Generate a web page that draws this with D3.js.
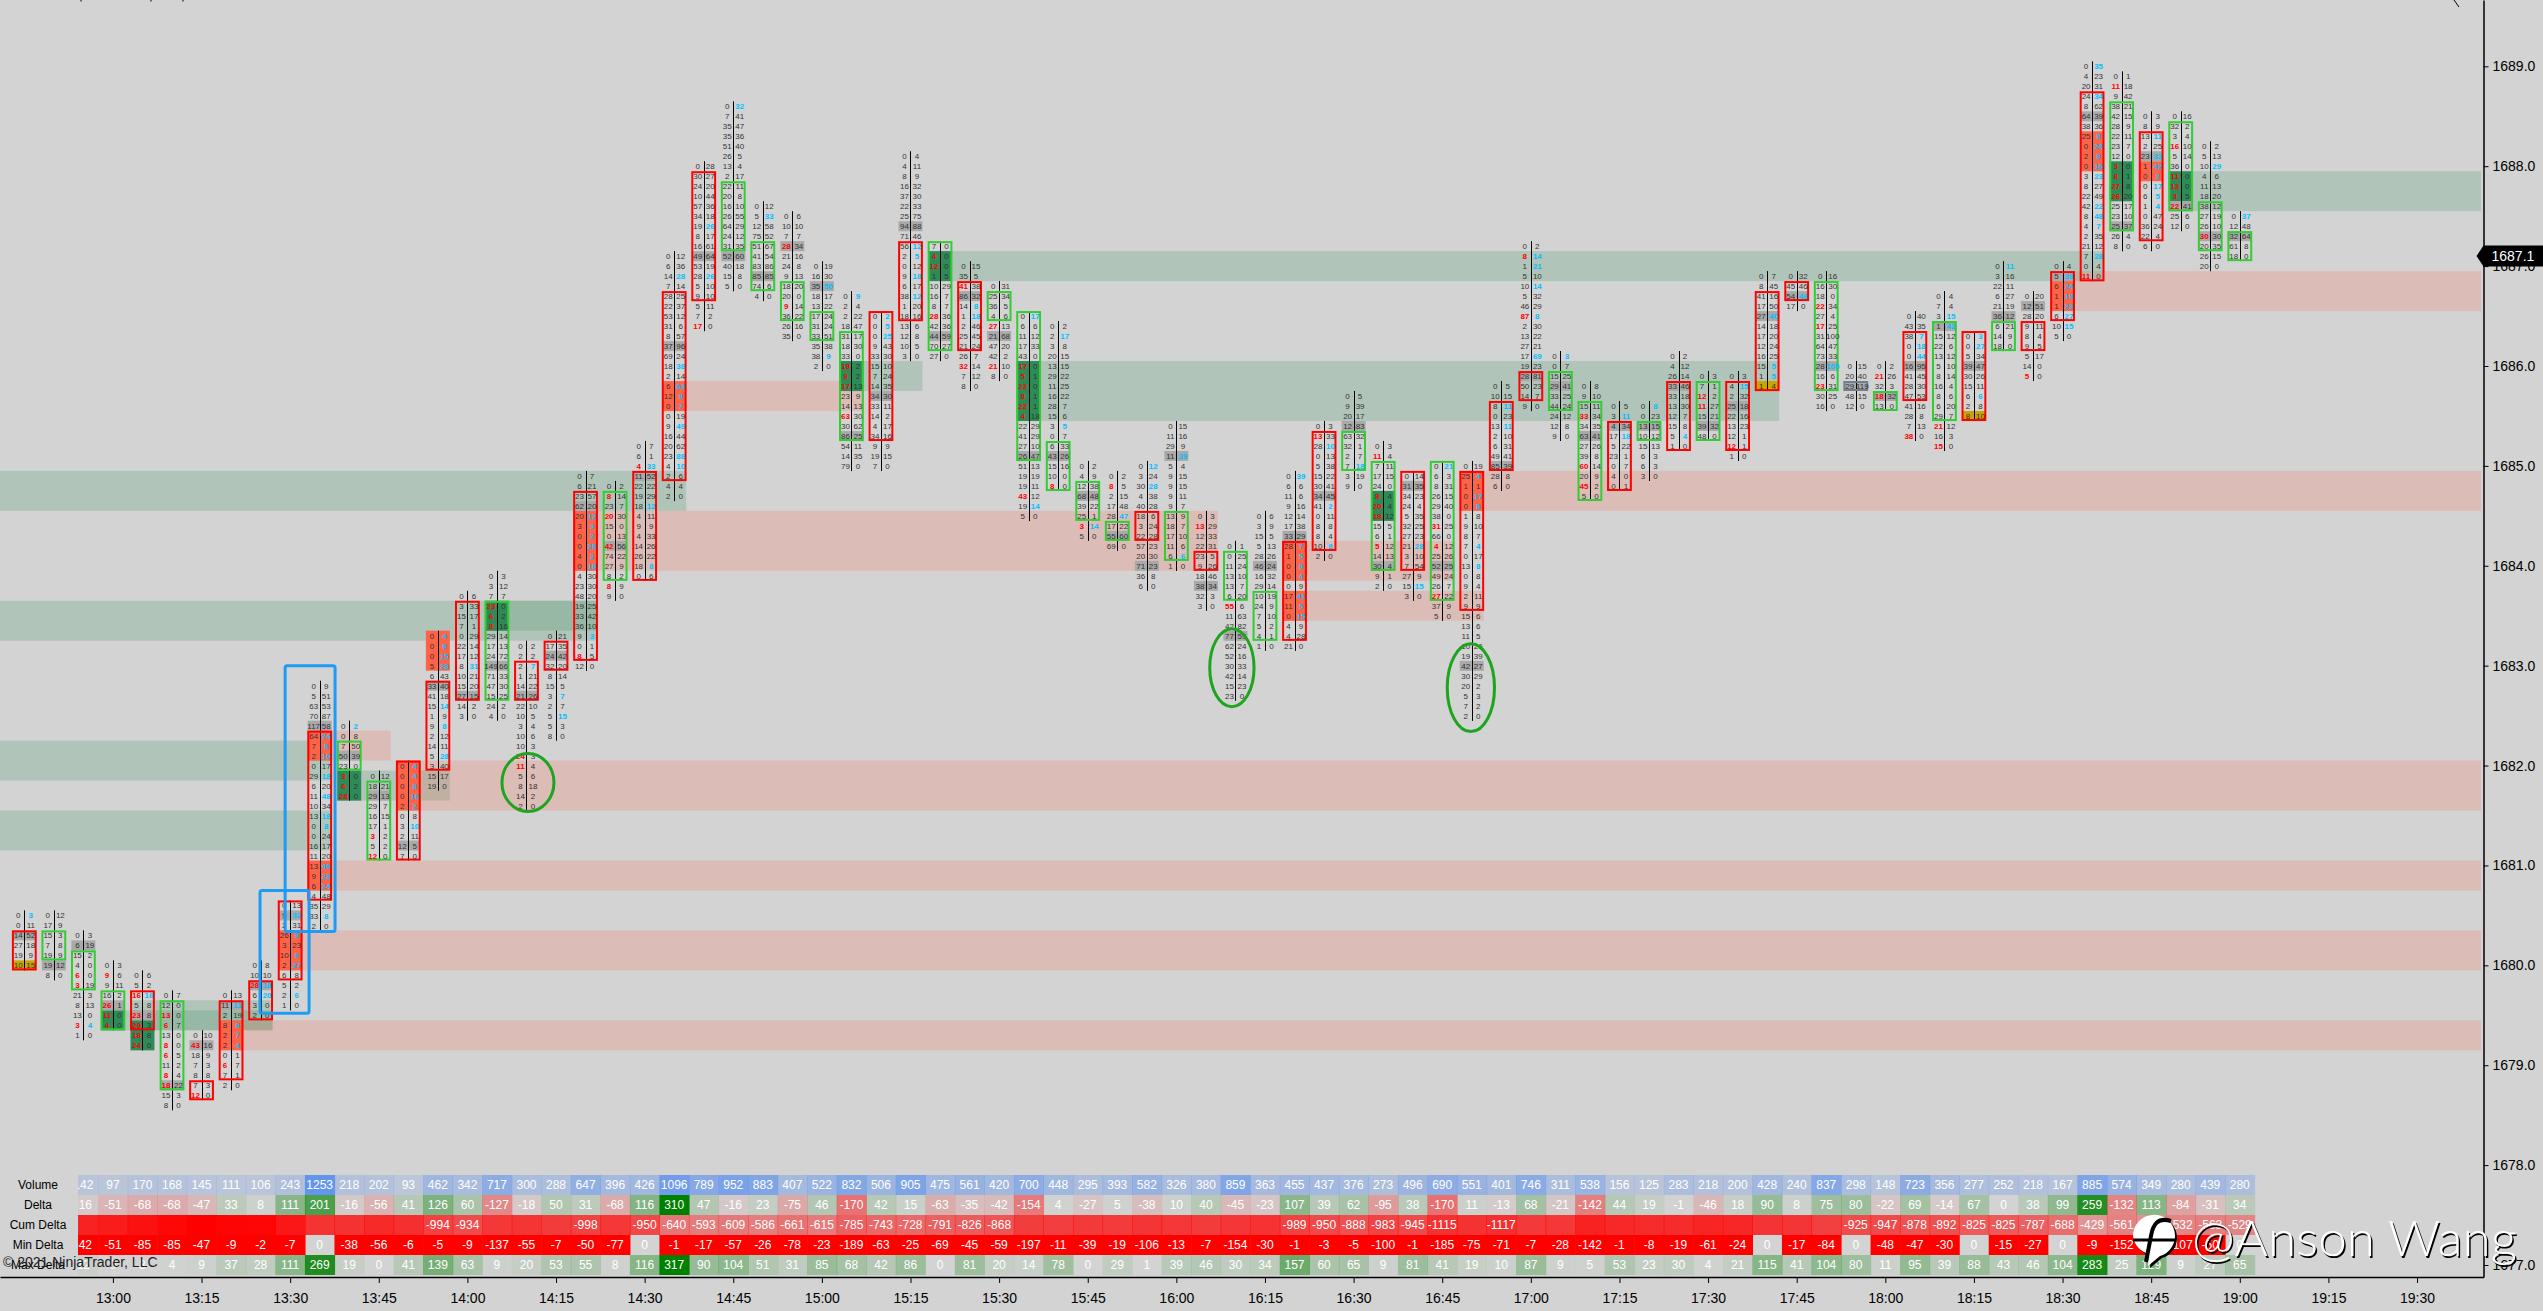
<!DOCTYPE html>
<html>
<head>
<meta charset="utf-8">
<script src="https://cdn.jsdelivr.net/npm/d3@7"></script>
<style>
  html, body { margin: 0; padding: 0; background: #d3d3d3; overflow: hidden; }
  text { font-family: "Liberation Sans", Arial, sans-serif; }
</style>
</head>
<body>
<script>
const timeLabels = ['13:00','13:15','13:30','13:45','14:00','14:15','14:30','14:45','15:00','15:15','15:30','15:45','16:00','16:15','16:30','16:45','17:00','17:15','17:30','17:45','18:00','18:15','18:30','18:45','19:00','19:15','19:30'];
const timeBars = [3,6,9,12,15,18,21,24,27,30,33,36,39,42,45,48,51,54,57,60,63,66,69,72,75,78,81];
const priceTicks = [1677,1678,1679,1680,1681,1682,1683,1684,1685,1686,1687,1688,1689];
const lastPrice = 1687.1;

// price of the top row of each footprint bar
const barTops = [1680.5,1680.5,1680.3,1680.0,1679.9,1679.7,1679.3,1679.7,1680.0,1680.6,1682.8,1682.4,1681.9,1682.0,1683.3,1683.7,1683.9,1683.2,1683.3,1684.9,1684.8,1685.2,1687.1,1688.0,1688.6,1687.6,1687.5,1687.0,1686.7,1686.5,1688.1,1687.2,1687.0,1686.8,1686.5,1686.4,1685.0,1684.9,1685.0,1685.4,1684.5,1684.2,1684.5,1684.9,1685.4,1685.7,1685.2,1684.9,1685.0,1685.0,1685.8,1687.2,1686.1,1685.8,1685.6,1685.6,1686.1,1685.9,1685.9,1686.9,1686.9,1686.9,1686.0,1686.0,1686.5,1686.7,1686.3,1687.0,1686.7,1687.0,1689.0,1688.9,1688.5,1688.5,1688.2,1687.5];

// bid x ask, top row first
const barLadders = [
  [[0,3],[0,11],[14,52],[27,18],[19,9],[10,15]],
  [[0,12],[17,9],[15,3],[7,8],[19,9],[19,12],[8,0]],
  [[0,3],[6,19],[15,2],[4,0],[6,0],[3,19],[21,3],[8,13],[13,0],[3,4],[1,0]],
  [[0,3],[9,6],[9,11],[16,2],[26,1],[11,0],[4,0]],
  [[0,6],[5,2],[16,16],[5,8],[23,8],[29,3],[18,8],[24,0]],
  [[0,7],[12,0],[13,0],[6,7],[13,0],[8,0],[6,5],[11,2],[8,4],[18,22],[15,3],[8,0]],
  [[0,10],[43,16],[18,9],[7,3],[8,8],[7,3],[12,0]],
  [[0,13],[11,11],[2,19],[8,8],[2,7],[2,4],[0,1],[6,7],[7,1],[2,0]],
  [[0,8],[10,10],[28,18],[6,20],[3,0],[2,0]],
  [[0,13],[9,32],[2,31],[26,9],[3,23],[10,6],[2,27],[6,8],[5,2],[2,6],[1,0]],
  [[0,9],[5,51],[63,53],[70,87],[117,58],[64,24],[7,8],[2,10],[0,17],[29,18],[6,20],[11,48],[10,34],[13,18],[0,8],[0,24],[16,17],[11,20],[13,46],[9,28],[6,24],[4,48],[35,29],[33,8],[2,0]],
  [[0,2],[0,8],[7,50],[50,39],[23,0],[3,0],[6,2],[28,0]],
  [[0,12],[18,21],[29,13],[29,7],[16,15],[17,1],[3,2],[5,2],[12,0]],
  [[0,4],[0,4],[0,8],[0,16],[2,2],[0,8],[3,10],[2,11],[12,5],[7,0]],
  [[0,4],[0,8],[0,15],[5,28],[6,43],[33,40],[41,18],[15,14],[1,9],[9,8],[2,12],[14,11],[5,28],[3,40],[15,17],[19,0]],
  [[0,6],[3,33],[15,17],[7,1],[0,29],[22,14],[17,12],[8,31],[10,21],[15,20],[27,15],[14,2],[3,0]],
  [[0,3],[3,12],[7,7],[23,0],[6,2],[8,16],[29,14],[17,13],[24,72],[149,66],[71,33],[47,30],[15,25],[24,2],[4,0]],
  [[0,2],[2,2],[2,7],[1,21],[14,22],[21,26],[22,10],[10,5],[3,4],[10,6],[10,3],[24,3],[11,4],[5,6],[8,18],[14,2],[2,0]],
  [[0,21],[17,35],[24,42],[32,20],[8,14],[15,5],[3,7],[2,7],[5,15],[5,3],[8,0]],
  [[0,7],[6,21],[23,57],[62,20],[20,12],[3,3],[0,2],[0,28],[4,2],[0,18],[4,30],[23,30],[48,20],[19,25],[33,42],[36,10],[9,3],[0,1],[8,5],[12,0]],
  [[0,2],[8,14],[23,7],[20,30],[15,0],[0,13],[42,56],[74,22],[27,9],[8,2],[8,9],[9,0]],
  [[0,7],[6,1],[4,33],[11,52],[22,22],[19,29],[18,12],[4,11],[9,9],[4,33],[14,26],[26,22],[18,8],[0,6]],
  [[0,12],[6,36],[14,28],[7,14],[28,25],[22,37],[53,12],[31,6],[8,57],[37,96],[69,24],[18,38],[2,14],[6,63],[12,9],[0,7],[0,19],[9,49],[16,44],[20,62],[23,88],[4,10],[2,6],[4,4],[2,0]],
  [[0,28],[30,27],[24,20],[10,44],[57,36],[34,18],[19,26],[8,17],[16,61],[49,64],[53,19],[28,26],[5,10],[9,10],[5,11],[7,2],[17,0]],
  [[0,32],[7,41],[35,47],[35,36],[51,40],[26,5],[13,4],[2,17],[22,11],[20,8],[16,10],[26,55],[64,29],[24,12],[31,35],[52,60],[40,18],[15,8],[5,0]],
  [[0,12],[5,33],[12,58],[75,52],[51,67],[41,54],[83,86],[85,85],[74,6],[4,0]],
  [[0,6],[10,10],[7,7],[28,34],[21,16],[24,8],[9,13],[18,20],[20,0],[9,14],[36,22],[26,16],[35,0]],
  [[0,19],[16,30],[35,50],[18,17],[13,22],[17,24],[31,24],[33,51],[35,38],[38,9],[2,0]],
  [[0,9],[2,4],[2,22],[18,47],[31,17],[18,30],[33,0],[18,2],[9,2],[17,13],[23,9],[14,13],[63,30],[30,62],[86,25],[54,11],[14,35],[79,0]],
  [[0,2],[0,5],[0,25],[9,43],[33,30],[15,10],[7,24],[14,35],[34,30],[33,11],[14,2],[4,17],[34,16],[9,9],[19,15],[7,0]],
  [[0,4],[4,11],[8,9],[16,32],[37,30],[22,33],[25,75],[94,88],[71,46],[56,12],[2,5],[0,12],[9,18],[6,17],[38,12],[1,20],[18,16],[13,6],[12,8],[10,5],[3,0]],
  [[7,0],[4,0],[12,0],[1,5],[10,29],[16,7],[8,7],[28,36],[42,36],[44,59],[70,27],[27,0]],
  [[0,15],[35,5],[41,38],[86,32],[14,8],[1,18],[2,46],[25,45],[21,24],[26,7],[32,14],[7,12],[8,0]],
  [[0,31],[25,34],[36,5],[4,6],[27,13],[21,68],[47,20],[42,2],[21,10],[8,0]],
  [[0,17],[6,6],[11,12],[17,33],[43,0],[17,0],[5,1],[22,0],[8,1],[22,1],[4,18],[22,29],[41,29],[27,10],[26,47],[51,13],[19,19],[19,11],[43,12],[19,14],[5,0]],
  [[0,2],[2,17],[3,8],[20,15],[13,15],[29,22],[11,25],[16,22],[28,7],[15,6],[3,5],[0,7],[6,33],[43,26],[15,16],[10,0],[8,0]],
  [[0,2],[4,9],[12,38],[68,48],[39,22],[25,1],[3,14],[5,0]],
  [[0,2],[8,5],[2,15],[17,48],[28,47],[17,22],[55,60],[69,0]],
  [[0,12],[3,24],[30,28],[4,38],[40,28],[18,6],[3,24],[22,28],[57,23],[20,30],[71,23],[36,8],[6,0]],
  [[0,15],[11,16],[29,9],[11,39],[5,4],[9,15],[9,15],[9,11],[9,7],[13,9],[18,7],[17,10],[11,6],[6,6],[1,0]],
  [[0,3],[13,29],[12,33],[22,31],[23,5],[9,26],[18,46],[38,34],[32,3],[3,0]],
  [[0,1],[0,25],[11,24],[13,10],[13,7],[6,20],[55,6],[11,63],[42,82],[77,59],[62,24],[52,16],[30,33],[42,14],[15,23],[23,0]],
  [[0,6],[3,9],[15,5],[5,13],[28,26],[46,24],[16,32],[29,14],[10,19],[24,9],[7,10],[5,2],[4,1],[1,0]],
  [[0,39],[6,6],[11,6],[9,16],[12,14],[17,38],[33,29],[28,7],[1,5],[0,8],[0,4],[0,9],[17,41],[11,5],[0,15],[4,9],[4,28],[21,0]],
  [[0,3],[13,33],[28,10],[0,13],[5,38],[15,22],[30,41],[34,45],[41,2],[0,11],[8,8],[8,4],[10,8],[2,0]],
  [[0,5],[9,39],[20,17],[12,83],[63,32],[32,1],[2,7],[7,18],[3,19],[9,0]],
  [[0,3],[11,4],[7,11],[17,15],[24,0],[8,4],[20,4],[18,12],[15,5],[6,1],[5,12],[14,13],[30,4],[9,1],[2,0]],
  [[0,14],[31,35],[34,23],[24,4],[5,35],[32,25],[27,23],[21,28],[3,10],[7,54],[27,9],[15,15],[3,0]],
  [[0,21],[6,3],[8,31],[26,15],[29,40],[38,0],[31,25],[66,0],[4,12],[25,26],[52,25],[49,24],[26,7],[27,22],[37,9],[5,0]],
  [[0,19],[25,4],[1,1],[0,17],[0,8],[1,8],[9,10],[8,7],[7,4],[0,17],[13,8],[0,8],[9,4],[2,11],[9,9],[15,6],[13,6],[11,5],[10,26],[19,39],[42,27],[30,29],[20,2],[5,3],[7,2],[2,0]],
  [[0,5],[10,15],[8,11],[0,23],[13,11],[2,10],[6,31],[49,41],[85,39],[28,8],[6,0]],
  [[0,2],[8,14],[1,21],[5,10],[10,14],[5,32],[46,29],[87,8],[2,30],[13,22],[27,21],[17,69],[19,23],[28,81],[50,23],[14,7],[9,0]],
  [[0,3],[0,7],[15,25],[29,41],[33,25],[44,24],[24,12],[12,8],[9,0]],
  [[0,8],[9,10],[15,11],[33,34],[34,35],[63,41],[27,26],[39,8],[60,14],[20,9],[45,2],[5,0]],
  [[0,5],[3,11],[4,34],[17,18],[5,22],[23,1],[0,7],[4,0],[0,1]],
  [[0,8],[0,23],[13,15],[10,12],[15,13],[6,3],[6,3],[3,0]],
  [[0,2],[4,12],[26,14],[33,46],[33,18],[13,30],[12,7],[15,8],[5,4],[1,0]],
  [[0,3],[7,1],[12,2],[11,27],[15,21],[39,32],[48,0]],
  [[0,3],[4,15],[2,32],[25,18],[22,16],[13,23],[12,1],[12,1],[1,0]],
  [[0,7],[8,45],[41,16],[17,50],[27,40],[14,18],[17,20],[12,24],[16,25],[15,5],[1,5],[1,4]],
  [[0,32],[45,46],[54,46],[17,0]],
  [[0,16],[16,30],[18,0],[22,34],[27,4],[17,25],[31,100],[64,47],[73,33],[28,105],[16,6],[23,31],[30,25],[16,0]],
  [[0,15],[20,40],[29,119],[48,15],[12,0]],
  [[0,2],[21,26],[32,3],[18,32],[13,0]],
  [[0,40],[43,35],[38,7],[0,18],[0,44],[16,95],[41,45],[28,30],[47,53],[41,16],[28,8],[7,13],[38,0]],
  [[0,4],[7,4],[3,15],[1,42],[15,12],[22,6],[13,12],[5,10],[8,14],[16,4],[8,6],[6,20],[29,7],[21,12],[16,3],[15,0]],
  [[0,3],[0,27],[5,34],[39,47],[30,26],[15,11],[6,6],[2,8],[8,10]],
  [[0,11],[3,16],[22,11],[6,27],[21,19],[36,12],[6,21],[14,9],[18,0]],
  [[0,20],[12,51],[28,20],[9,11],[8,4],[9,5],[5,17],[14,0],[5,0]],
  [[0,4],[5,39],[6,24],[1,19],[1,23],[6,27],[10,15],[5,0]],
  [[0,35],[4,23],[20,31],[24,34],[8,62],[64,39],[38,36],[25,8],[0,24],[2,8],[0,18],[3,23],[8,27],[22,49],[42,22],[8,48],[4,7],[2,35],[21,12],[7,28],[0,4],[11,0]],
  [[0,1],[11,18],[9,42],[38,21],[42,15],[28,9],[22,11],[23,7],[12,0],[3,0],[8,1],[27,8],[26,20],[25,17],[23,10],[25,37],[26,4],[8,0]],
  [[0,3],[8,9],[13,11],[2,25],[23,33],[1,42],[0,2],[0,17],[6,5],[1,4],[0,47],[36,24],[22,4],[6,0]],
  [[0,16],[32,2],[3,4],[16,10],[5,14],[36,0],[11,0],[13,0],[3,5],[22,41],[25,6],[12,0]],
  [[0,2],[5,13],[10,29],[4,6],[11,13],[18,20],[38,12],[27,19],[26,10],[30,30],[20,35],[26,15],[20,0]],
  [[0,37],[12,48],[32,64],[61,8],[18,0]]
];

// body of each bar as first row, last row, direction
const barBodies = [[2,5,'r'],[2,4,'g'],[2,5,'g'],[3,6,'g'],[2,5,'r'],[1,9,'g'],[5,6,'r'],[1,8,'r'],[2,5,'r'],[0,7,'r'],[5,21,'r'],[2,4,'g'],[1,8,'g'],[0,9,'r'],[5,13,'r'],[1,10,'r'],[3,12,'g'],[2,5,'r'],[1,3,'r'],[2,18,'r'],[1,9,'g'],[3,13,'r'],[4,22,'r'],[1,13,'r'],[8,14,'g'],[4,8,'g'],[7,10,'g'],[5,7,'g'],[4,14,'g'],[0,12,'r'],[9,16,'r'],[0,10,'g'],[2,8,'r'],[1,3,'g'],[0,14,'g'],[12,16,'g'],[2,5,'g'],[5,6,'g'],[5,7,'r'],[9,13,'g'],[4,5,'r'],[1,5,'g'],[8,12,'g'],[7,16,'r'],[1,12,'r'],[4,7,'g'],[2,12,'g'],[0,9,'r'],[0,13,'g'],[1,14,'r'],[2,8,'r'],[13,15,'r'],[2,5,'g'],[2,11,'g'],[2,8,'r'],[2,3,'g'],[3,9,'r'],[1,6,'g'],[1,7,'r'],[2,11,'r'],[1,2,'r'],[1,11,'g'],[2,2,'d'],[3,4,'g'],[2,8,'r'],[3,12,'g'],[0,8,'r'],[6,8,'g'],[3,5,'r'],[1,5,'r'],[3,21,'r'],[3,15,'g'],[2,12,'r'],[1,9,'g'],[6,10,'g'],[2,4,'g']];

// row with the most volume in each bar
const pocRows = [2,5,1,4,4,9,1,1,2,1,4,3,2,8,5,10,9,5,2,3,6,3,9,9,15,7,3,2,14,8,7,9,3,5,14,13,3,6,10,3,7,9,5,6,7,3,12,1,10,20,8,13,3,5,2,2,3,5,3,4,2,9,2,3,5,3,3,5,1,1,5,15,4,9,9,2];

// stacked imbalance cells: bar, first row, last row
const stackedSell = [[7,3,5],[9,3,6],[10,5,7],[10,18,20],[13,0,4],[14,0,3],[19,4,9],[22,13,15],[43,7,10],[43,12,14],[49,1,4],[69,2,4],[70,7,10],[72,5,6]];
const stackedBuy = [[3,5,6],[4,5,7],[11,5,7],[16,3,5],[28,7,9],[31,1,3],[34,5,10],[46,5,7],[71,9,12],[73,6,8]];
const goldCells = [[0,5],[59,11],[66,8]];

// support and resistance bands: first bar, last bar, top price, bottom price
const greenZones = [[-1,22,1684.9,1684.6],[-1,19,1683.6,1683.3],[16,19,1683.6,1683.4],[-1,10,1682.2,1681.9],[-1,10,1681.5,1681.2],[11,14,1681.9,1681.7],[4,8,1679.6,1679.4],[3,8,1679.5,1679.4],[28,30,1686.0,1685.8],[31,70,1687.1,1686.9],[34,59,1686.0,1685.5],[73,90,1687.9,1687.6]];
const redZones = [[10,12,1682.3,1682.1],[13,90,1682.0,1681.6],[10,90,1681.0,1680.8],[9,90,1680.3,1680.0],[7,90,1679.4,1679.2],[22,28,1685.8,1685.6],[19,40,1684.5,1684.0],[49,90,1684.9,1684.6],[43,48,1684.2,1683.9],[43,49,1683.7,1683.5],[69,90,1686.9,1686.6]];

// hand drawn marks on the chart, in bars and prices
const circleNotes = [[17.05,1681.83,0.88,0.29],[40.88,1682.98,0.75,0.39],[48.97,1682.78,0.8,0.44]];
const boxNotes = [[8.83,10.52,1683.0,1680.34],[7.98,9.64,1680.75,1679.52]];

// table below the chart, first visible column is bar 2
const tableNames = ['Volume','Delta','Cum Delta','Min Delta','Max Delta'];
const volumeRow = [142,97,170,168,145,111,106,243,1253,218,202,93,462,342,717,300,288,647,396,426,1096,789,952,883,407,522,832,506,905,475,561,420,700,448,295,393,582,326,380,859,363,455,437,376,273,496,690,551,401,746,311,538,156,125,283,218,200,428,240,837,298,148,723,356,277,252,218,167,885,574,349,280,439,280];
const deltaRow = [-16,-51,-68,-68,-47,33,8,111,201,-16,-56,41,126,60,-127,-18,50,31,-68,116,310,47,-16,23,-75,46,-170,42,15,-63,-35,-42,-154,4,-27,5,-38,10,40,-45,-23,107,39,62,-95,38,-170,11,-13,68,-21,-142,44,19,-1,-46,18,90,8,75,80,-22,69,-14,67,0,38,99,259,-132,113,-84,-31,34];
const cumDeltaRow = [-1208,-1259,-1327,-1395,-1442,-1409,-1401,-1290,-1089,-1105,-1161,-1120,-994,-934,-1061,-1079,-1029,-998,-1066,-950,-640,-593,-609,-586,-661,-615,-785,-743,-728,-791,-826,-868,-1022,-1018,-1045,-1040,-1078,-1068,-1028,-1073,-1096,-989,-950,-888,-983,-945,-1115,-1104,-1117,-1049,-1070,-1212,-1168,-1149,-1150,-1196,-1178,-1088,-1080,-1005,-925,-947,-878,-892,-825,-825,-787,-688,-429,-561,-448,-532,-563,-529];
const cumDeltaBlank = [2,3,4,5,6,7,8,9,10,11,12,13,16,17,18,20,34,35,36,37,38,39,40,41,42,49,51,52,53,54,55,56,57,58,59,60,61];
const minDeltaRow = [-42,-51,-85,-85,-47,-9,-2,-7,0,-38,-56,-6,-5,-9,-137,-55,-7,-50,-77,0,-1,-17,-57,-26,-78,-23,-189,-63,-25,-69,-45,-59,-197,-11,-39,-19,-106,-13,-7,-154,-30,-1,-3,-5,-100,-1,-185,-75,-71,-7,-28,-142,-1,-8,-19,-61,-24,0,-17,-84,0,-48,-47,-30,0,-15,-27,0,-9,-152,-16,-107,-50,0];
const maxDeltaRow = [12,0,3,4,9,37,28,111,269,19,0,41,139,63,9,20,53,55,8,116,317,90,104,51,31,85,68,42,86,0,81,20,14,78,0,29,1,39,46,30,34,157,60,65,9,81,41,19,10,87,9,5,53,23,30,4,21,115,41,104,80,11,95,39,88,43,46,104,283,25,129,9,27,65];

const width = 2543;
const height = 1311;
const axisX = 2483.5;
const axisY = 1277;
const halfBar = 12;
const rowHeight = 10;

const x = d3.scaleLinear().domain([-0.8226, 83.25]).range([0, axisX]);
const y = d3.scaleLinear().domain([1676.88, 1689.664]).range([axisY, 0]);
const step = x(1) - x(0);

const svg = d3.select('body').append('svg')
    .attr('width', width)
    .attr('height', height)
    .style('display', 'block');

svg.append('rect').attr('width', width).attr('height', height).attr('fill', '#d3d3d3');

// bands
function drawZones(list, color) {
  svg.append('g').selectAll('rect').data(list).enter().append('rect')
      .attr('x', d => Math.max(0, x(d[0]) - halfBar))
      .attr('y', d => y(d[2]) - rowHeight / 2)
      .attr('width', d => Math.min(axisX - 2.5, x(d[1]) + halfBar) - Math.max(0, x(d[0]) - halfBar))
      .attr('height', d => y(d[3]) - y(d[2]) + rowHeight)
      .attr('fill', color)
      .attr('fill-opacity', 0.2);
}
drawZones(greenZones, '#2e8b57');
drawZones(redZones, '#ff6347');

const rowY = (bar, row) => y(barTops[bar]) + row * rowHeight;

// filled cells
const chart = svg.append('g');
function drawCells(list, color) {
  chart.append('g').selectAll('rect').data(list).enter().append('rect')
      .attr('x', d => x(d[0]) - halfBar)
      .attr('y', d => rowY(d[0], d[1]) - rowHeight / 2)
      .attr('width', halfBar * 2)
      .attr('height', d => (d[2] - d[1] + 1) * rowHeight)
      .attr('fill', color);
}
drawCells(stackedSell, '#ff6347');
drawCells(stackedBuy, '#2e8b57');
drawCells(pocRows.map((r, i) => [i, r, r]), '#a9a9a9');
drawCells(goldCells.map(d => [d[0], d[1], d[1]]), '#cba400');

// wick line in the middle of every bar
chart.append('g').selectAll('line').data(barLadders).enter().append('line')
    .attr('x1', (d, i) => Math.round(x(i)) + 0.5)
    .attr('x2', (d, i) => Math.round(x(i)) + 0.5)
    .attr('y1', (d, i) => rowY(i, 0) - rowHeight / 2)
    .attr('y2', (d, i) => rowY(i, d.length - 1) + rowHeight / 2)
    .attr('stroke', '#000')
    .attr('stroke-width', 1);

// bar bodies, the border sits just inside the rows it wraps
const bodyColors = { r: '#ff0000', g: '#32cd32', d: '#708090' };
const bodyHalf = 11.4;
chart.append('g').selectAll('rect').data(barBodies).enter().append('rect')
    .attr('x', (d, i) => x(i) - bodyHalf)
    .attr('y', (d, i) => rowY(i, d[0]) - rowHeight / 2 + 1)
    .attr('width', bodyHalf * 2)
    .attr('height', d => (d[1] - d[0] + 1) * rowHeight - 2)
    .attr('fill', 'none')
    .attr('stroke', d => bodyColors[d[2]])
    .attr('stroke-width', 2);

// bid and ask numbers, coloured when one side is much bigger on the diagonal
const imbalanceRatio = 2.7;
barLadders.forEach((rows, i) => {
  const g = chart.append('g').attr('font-size', 8).attr('text-anchor', 'middle');
  rows.forEach((r, k) => {
    const askAbove = k > 0 ? rows[k - 1][1] : null;
    const bidBelow = k < rows.length - 1 ? rows[k + 1][0] : null;
    const redBid = askAbove !== null && r[0] >= 3 && r[0] >= askAbove * imbalanceRatio;
    const blueAsk = bidBelow !== null && r[1] >= 2 && r[1] >= bidBelow * imbalanceRatio;
    g.append('text')
        .attr('x', x(i) - 6)
        .attr('y', rowY(i, k) + 3)
        .attr('fill', redBid ? '#ff0000' : '#333')
        .attr('font-weight', redBid ? 'bold' : 'normal')
        .text(r[0]);
    g.append('text')
        .attr('x', x(i) + 6.5)
        .attr('y', rowY(i, k) + 3)
        .attr('fill', blueAsk ? '#00bfff' : '#333')
        .attr('font-weight', blueAsk ? 'bold' : 'normal')
        .text(r[1]);
  });
});

// hand drawn notes
svg.append('g').selectAll('ellipse').data(circleNotes).enter().append('ellipse')
    .attr('cx', d => x(d[0]))
    .attr('cy', d => y(d[1]))
    .attr('rx', d => d[2] * step)
    .attr('ry', d => y(d[1] - d[3]) - y(d[1]))
    .attr('fill', 'none')
    .attr('stroke', '#1ea51e')
    .attr('stroke-width', 3);

svg.append('g').selectAll('rect').data(boxNotes).enter().append('rect')
    .attr('x', d => x(d[0]))
    .attr('y', d => y(d[2]))
    .attr('width', d => x(d[1]) - x(d[0]))
    .attr('height', d => y(d[3]) - y(d[2]))
    .attr('rx', 2)
    .attr('fill', 'none')
    .attr('stroke', '#1e9bf5')
    .attr('stroke-width', 3);

// table
const tableTop = 1175;
const tableRowHeight = 20;
const tableLeft = 78;

svg.append('clipPath').attr('id', 'table-clip')
  .append('rect').attr('x', tableLeft).attr('y', tableTop).attr('width', width - tableLeft).attr('height', tableRowHeight * 5);

const table = svg.append('g').attr('clip-path', 'url(#table-clip)');

const blue = '#6495ed';
const red = '#ff0000';
const green = '#008000';
const tableRows = [
  { values: volumeRow, color: () => blue, alpha: v => 0.15 + 0.85 * v / 1253 },
  { values: deltaRow, color: v => v < 0 ? red : green, alpha: v => v < 0 ? -v / 360 : v / 310 },
  { values: cumDeltaRow, color: () => red, alpha: v => -v / 1442, blank: cumDeltaBlank },
  { values: minDeltaRow, color: () => red, alpha: v => v === 0 ? 0 : 1 },
  { values: maxDeltaRow, color: () => green, alpha: v => v / 317 }
];

tableRows.forEach((row, r) => {
  const rowTop = tableTop + r * tableRowHeight;
  const cells = row.values.map((v, i) => ({ v: v, bar: i + 2 }));
  const g = table.append('g');
  g.selectAll('rect').data(cells).enter().append('rect')
      .attr('x', d => x(d.bar) - step / 2)
      .attr('y', rowTop)
      .attr('width', step + 0.6)
      .attr('height', tableRowHeight)
      .attr('fill', d => row.color(d.v))
      .attr('fill-opacity', d => row.alpha(d.v));
  g.selectAll('text').data(cells.filter(d => !(row.blank && row.blank.includes(d.bar)))).enter().append('text')
      .attr('x', d => x(d.bar))
      .attr('y', rowTop + tableRowHeight / 2 + 4.2)
      .attr('text-anchor', 'middle')
      .attr('font-size', 12)
      .attr('fill', '#fff')
      .text(d => d.v);
});

svg.append('g').selectAll('text').data(tableNames).enter().append('text')
    .attr('x', 38)
    .attr('y', (d, i) => tableTop + i * tableRowHeight + tableRowHeight / 2 + 4.3)
    .attr('text-anchor', 'middle')
    .attr('font-size', 12)
    .attr('fill', '#000')
    .text(d => d);

// axes
const xAxis = d3.axisBottom(x)
    .tickValues(timeBars)
    .tickFormat((d, i) => timeLabels[i])
    .tickSize(6)
    .tickSizeOuter(0)
    .tickPadding(10);

const xAxisG = svg.append('g')
    .attr('transform', `translate(0, ${axisY})`)
    .call(xAxis);
xAxisG.selectAll('text').attr('font-size', 14).attr('fill', '#000').style('font-family', '"Liberation Sans", Arial, sans-serif');
xAxisG.selectAll('line').attr('stroke', '#000');
xAxisG.select('.domain').attr('stroke', '#000').attr('stroke-width', 1.5);

const yAxis = d3.axisRight(y)
    .tickValues(priceTicks)
    .tickFormat(d3.format('.1f'))
    .tickSize(5)
    .tickSizeOuter(0)
    .tickPadding(4);

const yAxisG = svg.append('g')
    .attr('transform', `translate(${axisX}, 0)`)
    .call(yAxis);
yAxisG.selectAll('text').attr('font-size', 14).attr('fill', '#000').style('font-family', '"Liberation Sans", Arial, sans-serif');
yAxisG.selectAll('line').attr('stroke', '#000');
yAxisG.select('.domain').attr('stroke', '#000').attr('stroke-width', 1.5);

// last price flag
const flag = svg.append('g').attr('transform', `translate(${axisX}, ${y(lastPrice)})`);
flag.append('path').attr('d', 'M-7,0 L0,-10.5 H60 V10.5 H0 Z').attr('fill', '#000');
flag.append('text')
    .attr('x', 8)
    .attr('y', 5)
    .attr('font-size', 14)
    .attr('fill', '#fff')
    .text(d3.format('.1f')(lastPrice));

// cut off bits of the window title along the top edge
[[81, 0, 81, 1.5], [151, 0, 151, 1.5], [183, 0, 183, 1.5], [2454, 0, 2459, 7]].forEach(d => {
  svg.append('line')
      .attr('x1', d[0]).attr('y1', d[1]).attr('x2', d[2]).attr('y2', d[3])
      .attr('stroke', '#000').attr('stroke-width', 1);
});

svg.append('text')
    .attr('x', 3)
    .attr('y', 1267)
    .attr('font-size', 14)
    .attr('fill', '#222')
    .text('© 2021 NinjaTrader, LLC');

// watermark
const mark = svg.append('g').attr('transform', 'translate(2154, 1236)');
const bubble = 'M-21,0 A21,21 0 1 1 6,20 L-6,30 L-5,18 A21,21 0 0 1 -21,0 Z';
mark.append('path').attr('d', bubble).attr('fill', '#000').attr('transform', 'translate(2, 2)');
mark.append('path').attr('d', bubble).attr('fill', '#fff');
mark.append('path').attr('d', 'M-21,4 H21').attr('stroke', '#000').attr('stroke-width', 3);
mark.append('path').attr('d', 'M17,-15 C4,-19 -1,-12 -3,0 L-8,26').attr('fill', 'none').attr('stroke', '#000').attr('stroke-width', 4);

[[1.5, 1.5, '#000'], [0, 0, '#fff']].forEach(d => {
  svg.append('text')
      .attr('x', 2192 + d[0])
      .attr('y', 1256 + d[1])
      .attr('font-size', 50)
      .attr('font-weight', 300)
      .attr('textLength', 325)
      .attr('lengthAdjust', 'spacingAndGlyphs')
      .attr('fill', d[2])
      .style('font-family', 'Lato, "Open Sans", sans-serif')
      .text('@Anson Wang');
});
</script>
</body>
</html>
